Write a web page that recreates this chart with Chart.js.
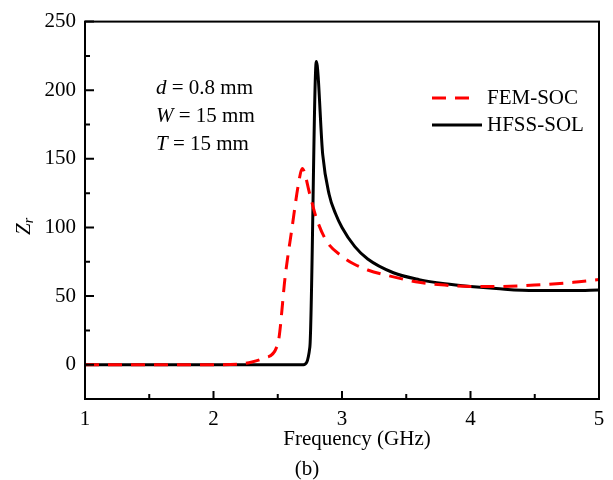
<!DOCTYPE html>
<html>
<head>
<meta charset="utf-8">
<script src="https://cdn.jsdelivr.net/npm/chart.js@4.4.1/dist/chart.umd.min.js"></script>
<style>
  html, body { margin: 0; padding: 0; background: #fff; }
  #wrap { width: 613px; height: 480px; }
</style>
</head>
<body>
<div id="wrap"><canvas id="zr"></canvas></div>
<script>
// data
var femFreq = [1.0, 1.5, 2.0, 2.2, 2.3, 2.4, 2.5, 2.56, 2.61, 2.66, 2.69, 2.75, 2.8, 2.88, 3.0, 3.1, 3.2, 3.4, 3.6, 3.8, 4.0, 4.2, 4.5, 4.8, 5.0];
var femZr   = [0, 0, 0, 0.5, 2, 5, 15, 66, 99, 131, 143, 124, 107, 90, 79, 73, 69, 64, 60, 58, 57, 57, 58, 60, 62];

var hfssFreq = [1.0, 2.0, 2.7, 2.75, 2.8, 2.85, 2.9, 2.95, 3.0, 3.1, 3.2, 3.4, 3.6, 3.8, 4.0, 4.2, 4.5, 4.8, 5.0];
var hfssZr   = [0, 0, 0, 13, 221, 153, 124, 110, 100, 86, 77, 67, 62, 59, 57, 55.5, 54, 54, 54.5];

var freqTicks = [1, 2, 3, 4, 5];
var freqMinor = [1.5, 2.5, 3.5, 4.5];
var zrTicks = [0, 50, 100, 150, 200, 250];
var zrMinor = [25, 75, 125, 175, 225];

var seriesNames = ['FEM-SOC', 'HFSS-SOL'];
var notes = [['d', ' = 0.8 mm'], ['W', ' = 15 mm'], ['T', ' = 15 mm']];

var SERIF = '"Liberation Serif", "Times New Roman", serif';

var toPoints = function(xs, ys) {
  return xs.map(function(x, i) { return { x: x, y: ys[i] }; });
};

// inward ticks, frame, titles, notes and legend
var decor = {
  id: 'decor',
  afterDatasetsDraw: function(chart) {
    var ctx = chart.ctx;
    var a = chart.chartArea;
    var xs = chart.scales.x, ys = chart.scales.y;
    ctx.save();
    ctx.strokeStyle = '#000';
    ctx.lineWidth = 2;
    ctx.strokeRect(a.left, a.top, a.right - a.left, a.bottom - a.top);

    ctx.beginPath();
    zrTicks.forEach(function(v) {
      var y = ys.getPixelForValue(v);
      ctx.moveTo(a.left, y); ctx.lineTo(a.left + 9, y);
    });
    zrMinor.forEach(function(v) {
      var y = ys.getPixelForValue(v);
      ctx.moveTo(a.left, y); ctx.lineTo(a.left + 5, y);
    });
    freqTicks.forEach(function(v) {
      var x = xs.getPixelForValue(v);
      ctx.moveTo(x, a.bottom); ctx.lineTo(x, a.bottom - 8);
    });
    freqMinor.forEach(function(v) {
      var x = xs.getPixelForValue(v);
      ctx.moveTo(x, a.bottom); ctx.lineTo(x, a.bottom - 5);
    });
    ctx.stroke();

    ctx.fillStyle = '#000';
    ctx.textBaseline = 'middle';

    // x title and panel label
    ctx.font = '21px ' + SERIF;
    ctx.textAlign = 'center';
    ctx.fillText('Frequency (GHz)', 357, 439);
    ctx.fillText('(b)', 307, 469);

    // y title Z_r
    ctx.save();
    ctx.translate(24, 226);
    ctx.rotate(-Math.PI / 2);
    ctx.textAlign = 'left';
    ctx.font = 'italic 21px ' + SERIF;
    var zw = ctx.measureText('Z').width;
    ctx.fillText('Z', -9, 0);
    ctx.font = 'italic 14px ' + SERIF;
    ctx.fillText('r', -9 + zw, 5);
    ctx.restore();

    // parameter notes
    ctx.textAlign = 'left';
    notes.forEach(function(n, i) {
      var y = 88 + i * 28;
      ctx.font = 'italic 21px ' + SERIF;
      ctx.fillText(n[0], 156, y);
      var w = ctx.measureText(n[0]).width;
      ctx.font = '21px ' + SERIF;
      ctx.fillText(n[1], 156 + w, y);
    });

    // legend
    var ds = chart.data.datasets;
    [98, 125].forEach(function(y, i) {
      ctx.save();
      ctx.strokeStyle = ds[i].borderColor;
      ctx.lineWidth = 3;
      ctx.setLineDash(ds[i].borderDash || []);
      ctx.beginPath();
      ctx.moveTo(432, y); ctx.lineTo(i === 0 ? 476 : 482, y);
      ctx.stroke();
      ctx.restore();
      ctx.font = '21px ' + SERIF;
      ctx.fillText(seriesNames[i], 487, y);
    });
    ctx.restore();
  }
};

new Chart(document.getElementById('zr'), {
  type: 'line',
  data: {
    datasets: [{
      label: seriesNames[0],
      data: toPoints(femFreq, femZr),
      borderColor: '#ff0000',
      borderWidth: 3,
      borderDash: [14, 9],
      pointRadius: 0,
      cubicInterpolationMode: 'monotone'
    }, {
      label: seriesNames[1],
      data: toPoints(hfssFreq, hfssZr),
      borderColor: '#000000',
      borderWidth: 3,
      pointRadius: 0,
      cubicInterpolationMode: 'monotone'
    }]
  },
  options: {
    responsive: true,
    maintainAspectRatio: false,
    animation: false,
    devicePixelRatio: 1,
    layout: { padding: { top: 19, right: 14, left: 0, bottom: 0 } },
    plugins: { legend: { display: false }, tooltip: { enabled: false } },
    scales: {
      x: {
        type: 'linear',
        min: 1, max: 5,
        grid: { display: false, drawTicks: false },
        border: { display: false },
        ticks: {
          stepSize: 1, padding: 8, color: '#000',
          font: { family: SERIF, size: 21 }
        },
        afterFit: function(s) { s.height = 81; }
      },
      y: {
        min: -25, max: 250,
        grid: { display: false, drawTicks: false },
        border: { display: false },
        ticks: {
          stepSize: 50, padding: 9, color: '#000',
          font: { family: SERIF, size: 21 }
        },
        afterBuildTicks: function(s) {
          s.ticks = s.ticks.filter(function(t) { return t.value >= 0; });
        },
        afterFit: function(s) { s.width = 85; }
      }
    }
  },
  plugins: [decor]
});
</script>
</body>
</html>
